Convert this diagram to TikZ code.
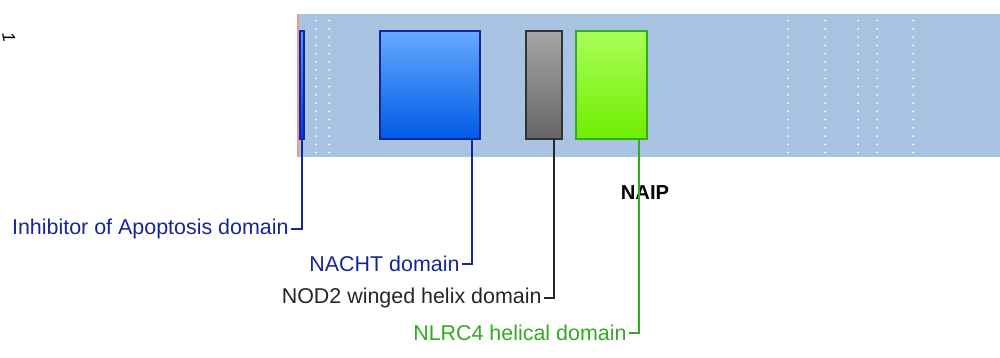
\documentclass[tikz,border=0pt]{standalone}
\usepackage{fontspec}
\setmainfont{Liberation Sans}
\usetikzlibrary{positioning,calc}

\definecolor{bandblue}{RGB}{169,196,227}
\definecolor{labblue}{RGB}{22,38,150}
\definecolor{labgreen}{RGB}{52,170,34}
\definecolor{edgepink}{RGB}{236,150,150}

\tikzset{
  dombox/.style={draw,line width=0.8pt,rectangle,inner sep=0pt,outer sep=0pt,
    minimum height=2.16cm},
  domlab/.style={anchor=east,inner sep=1.2pt,font=\fontsize{12.2}{14}\selectfont},
  domline/.style={line width=1pt}
}

\begin{document}
\begin{tikzpicture}[x=0.02cm,y=0.02cm]
  \useasboundingbox (0,0) rectangle (1000,-358);
  % background band
  \fill[bandblue] (298,-14) rectangle (1000,-157);
  \draw[edgepink,line width=0.9pt] (298,-14) -- (298,-157);
  \foreach \dx in {316,329,788,825,858,877,913}
    \foreach \k in {0,...,16}
      \fill[white] (\dx,-20.7-8.25*\k) circle (1);
  \node[rotate=-80,inner sep=0pt,font=\fontsize{10}{12}\selectfont\itshape] (tick) at (9,-37) {1};

  % domains
  \node[dombox,draw=labblue,top color=blue!55!cyan!70,bottom color=blue!80!cyan,
    minimum width=0.08cm] (iap) at (302,-85) {};
  \node[dombox,draw=labblue,top color={rgb,255:red,102;green,170;blue,255},
    bottom color={rgb,255:red,0;green,90;blue,230},minimum width=2cm] (nacht) at (430,-85) {};
  \node[dombox,draw=black!80,top color=black!35,bottom color=black!60,
    minimum width=0.72cm] (nod) at (544,-85) {};
  \node[dombox,draw=labgreen,top color={rgb,255:red,170;green,255;blue,90},
    bottom color={rgb,255:red,110;green,238;blue,0},minimum width=1.42cm] (nlrc) at (611.5,-85) {};

  \node[font=\fontsize{11.5}{13}\selectfont\bfseries] (naip) at (645,-193) {NAIP};

  % labels
  \node[domlab,text=labblue] (iapl) at (291,-229) {Inhibitor of Apoptosis domain};
  \node[domlab,text=labblue] (nachtl) at (462,-264) {NACHT domain};
  \node[domlab,text=black!85] (nodl) at (544,-298) {NOD2 winged helix domain};
  \node[domlab,text=labgreen] (nlrcl) at (629,-333) {NLRC4 helical domain};

  % connectors
  \draw[domline,labblue] (iap.south) |- (iapl.east);
  \draw[domline,labblue] ([xshift=-0.16cm]nacht.south east) |- (nachtl.east);
  \draw[domline,black!85] ([xshift=0.2cm]nod.south) |- (nodl.east);
  \draw[domline,labgreen] ([xshift=-0.16cm]nlrc.south east) |- (nlrcl.east);
\end{tikzpicture}
\end{document}
